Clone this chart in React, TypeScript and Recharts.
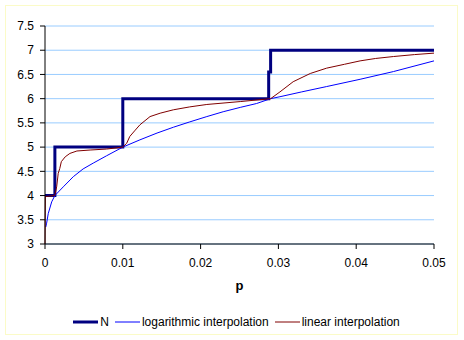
import React from 'react';
import { LineChart, Line, XAxis, YAxis, CartesianGrid, Legend } from 'recharts';

// values
const nP = [0, 0.00127, 0.00127, 0.01, 0.01, 0.02875, 0.02875, 0.029, 0.029, 0.05];
const nV = [4, 4, 5, 5, 6, 6, 6.55, 6.55, 7, 7];

const logP = [0.0001, 0.00021, 0.00042, 0.00086, 0.00127, 0.00235, 0.00364, 0.0049, 0.0062, 0.0079, 0.01, 0.0122, 0.0144, 0.0165, 0.0186, 0.0208, 0.0229, 0.0251, 0.0272, 0.029, 0.0302, 0.033, 0.0362, 0.0405, 0.0448, 0.05];
const logV = [3.35, 3.43, 3.63, 3.87, 4.0, 4.18, 4.39, 4.55, 4.67, 4.82, 5.0, 5.15, 5.29, 5.41, 5.52, 5.63, 5.73, 5.82, 5.9, 6.0, 6.04, 6.14, 6.25, 6.4, 6.56, 6.78];

const linP = [0, 0.00005, 0.00125, 0.0015, 0.0017, 0.0019, 0.0021, 0.0026, 0.0032, 0.0041, 0.0058, 0.0079, 0.01, 0.0105, 0.0109, 0.0116, 0.0122, 0.0135, 0.0148, 0.0165, 0.0186, 0.0208, 0.0251, 0.029, 0.0302, 0.0319, 0.0341, 0.0362, 0.0385, 0.0405, 0.0425, 0.0448, 0.0475, 0.05];
const linV = [3, 3.98, 4.0, 4.18, 4.46, 4.56, 4.7, 4.8, 4.87, 4.92, 4.94, 4.96, 5.0, 5.08, 5.22, 5.35, 5.46, 5.63, 5.7, 5.77, 5.83, 5.88, 5.94, 6.0, 6.14, 6.35, 6.52, 6.63, 6.71, 6.78, 6.83, 6.87, 6.91, 6.94];

const xTicks = [0, 0.01, 0.02, 0.03, 0.04, 0.05];
const yTicks = [3, 3.5, 4, 4.5, 5, 5.5, 6, 6.5, 7, 7.5];

const series = [
  { name: 'N', color: '#000080', width: 3, p: nP, v: nV },
  { name: 'logarithmic interpolation', color: '#0000ff', width: 1, p: logP, v: logV },
  { name: 'linear interpolation', color: '#800000', width: 1, p: linP, v: linV },
];

const FONT = '"Liberation Sans", Arial, sans-serif';

const LegendBox = () => (
  <div style={{ display: 'flex', justifyContent: 'center', alignItems: 'center', height: 20, fontFamily: FONT, fontSize: 12, color: '#000' }}>
    {series.map((s) => (
      <span key={s.name} style={{ display: 'flex', alignItems: 'center', marginRight: 6 }}>
        <svg width={25} height={6} style={{ marginRight: 2 }}>
          <line x1={0} y1={3} x2={25} y2={3} stroke={s.color} strokeWidth={s.width} />
        </svg>
        {s.name}
      </span>
    ))}
  </div>
);

export default function App() {
  return (
    <div style={{ position: 'absolute', left: 0, top: 0, width: 464, height: 340, background: '#fff' }}>
      <div style={{ position: 'absolute', left: 5, top: 5, width: 451, height: 328, border: '1px solid #fbfbc8' }} />
      <LineChart width={464} height={340} margin={{ top: 26, right: 30, left: 10, bottom: 8 }} style={{ fontFamily: FONT }}>
        <CartesianGrid horizontal vertical={false} stroke="#99ccff" />
        <XAxis
          type="number"
          dataKey="p"
          domain={[0, 0.05]}
          ticks={xTicks}
          height={68}
          tickSize={5}
          tickMargin={9}
          stroke="#000"
          tick={{ fill: '#000', fontSize: 12 }}
          label={({ viewBox }: any) => (
            <text x={viewBox.x + viewBox.width / 2} y={viewBox.y + 46} textAnchor="middle" fontSize={13} fontWeight="bold" fill="#000">p</text>
          )}
        />
        <YAxis
          type="number"
          domain={[3, 7.5]}
          ticks={yTicks}
          width={35}
          tickSize={5}
          tickMargin={6}
          stroke="#000"
          tick={{ fill: '#000', fontSize: 12 }}
        />
        <Legend verticalAlign="bottom" height={20} wrapperStyle={{ left: 45, width: 389 }} content={() => <LegendBox />} />
        {series.map((s) => (
          <Line
            key={s.name}
            name={s.name}
            data={s.p.map((p, i) => ({ p, v: s.v[i] }))}
            dataKey="v"
            type="linear"
            stroke={s.color}
            strokeWidth={s.width}
            dot={false}
            isAnimationActive={false}
          />
        ))}
      </LineChart>
    </div>
  );
}
